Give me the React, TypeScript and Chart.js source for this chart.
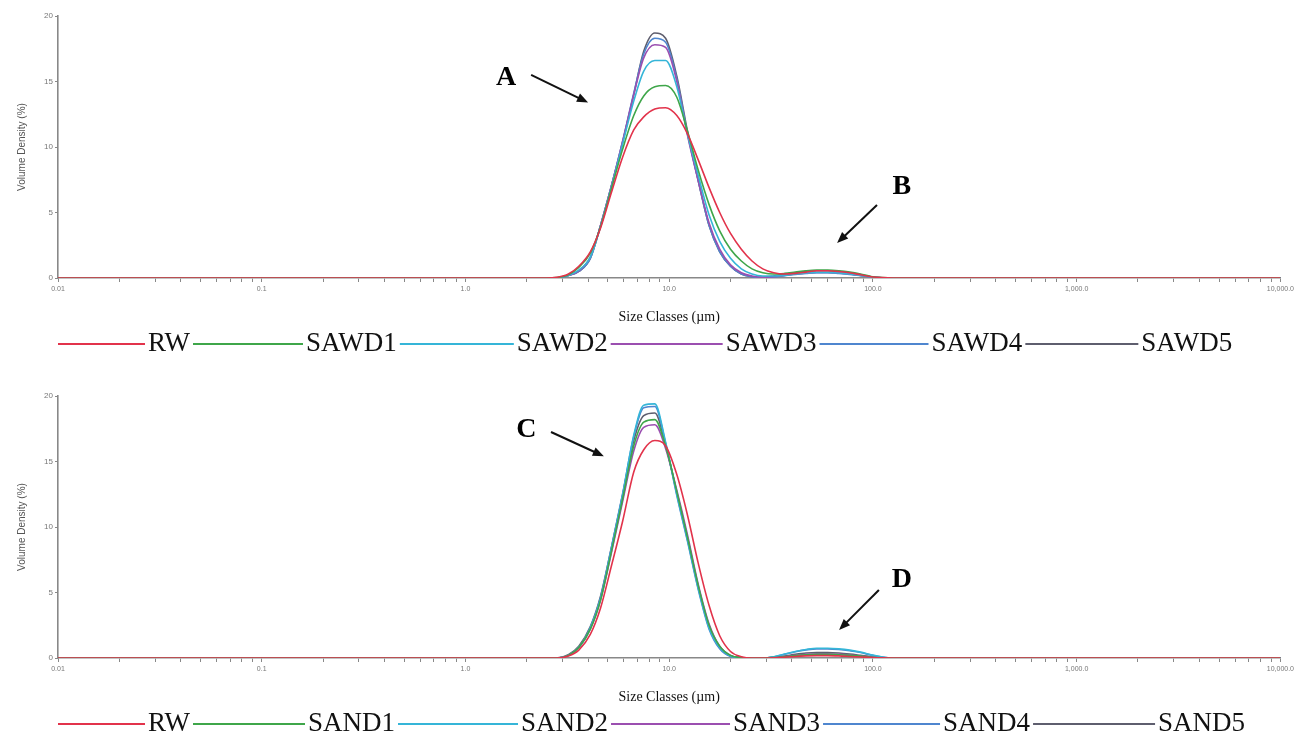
import React, { useEffect, useRef } from 'react';
import { Chart, registerables } from 'chart.js';

Chart.register(...registerables);

// Size classes (µm) at which the curves were read
const sizeClasses = [0.01, 0.1, 1, 2, 2.5, 2.8, 3.2, 3.6, 4.1, 4.6, 5.2, 5.9, 6.7, 7.5, 8.5, 9.6, 10.9, 12.3, 13.9, 15.7, 17.7, 20, 22.6, 25.5, 28.8, 32.6, 36.8, 41.6, 47, 53, 60, 68, 77, 87, 98, 111, 125, 200, 1000, 10000];

const xTickValues = [0.01, 0.1, 1, 10, 100, 1000, 10000];
const xTickLabels = ['0.01', '0.1', '1.0', '10.0', '100.0', '1,000.0', '10,000.0'];
const yTickValues = [0, 5, 10, 15, 20];

const namesTop = ['RW', 'SAWD1', 'SAWD2', 'SAWD3', 'SAWD4', 'SAWD5'];
const namesBottom = ['RW', 'SAND1', 'SAND2', 'SAND3', 'SAND4', 'SAND5'];

// Top panel (SAWD)
const rwTop = [0, 0, 0, 0, 0, 0.05, 0.3, 0.9, 2.0, 3.8, 6.5, 9.2, 11.3, 12.3, 12.9, 13.0, 12.4, 11.0, 9.0, 6.9, 5.0, 3.4, 2.2, 1.3, 0.7, 0.4, 0.3, 0.35, 0.45, 0.55, 0.55, 0.5, 0.4, 0.25, 0.1, 0.03, 0, 0, 0, 0];
const sawd1 = [0, 0, 0, 0, 0, 0.03, 0.25, 0.8, 1.9, 3.9, 6.8, 9.8, 12.4, 13.9, 14.6, 14.7, 13.8, 11.2, 8.2, 5.6, 3.6, 2.2, 1.3, 0.7, 0.4, 0.3, 0.35, 0.45, 0.55, 0.6, 0.6, 0.55, 0.45, 0.3, 0.12, 0.03, 0, 0, 0, 0];
const sawd2 = [0, 0, 0, 0, 0, 0.02, 0.2, 0.6, 1.6, 3.9, 6.9, 10.2, 13.5, 15.8, 16.6, 16.6, 14.6, 11.0, 7.8, 4.8, 2.8, 1.5, 0.7, 0.3, 0.15, 0.15, 0.2, 0.3, 0.38, 0.42, 0.42, 0.38, 0.3, 0.2, 0.08, 0.02, 0, 0, 0, 0];
const sawd3 = [0, 0, 0, 0, 0, 0, 0.2, 0.55, 1.6, 4.0, 7.0, 10.4, 14.0, 16.8, 17.8, 17.6, 15.0, 10.9, 7.4, 4.2, 2.2, 1.0, 0.4, 0.15, 0.05, 0.1, 0.2, 0.3, 0.38, 0.42, 0.42, 0.38, 0.3, 0.2, 0.08, 0.02, 0, 0, 0, 0];
const sawd4 = [0, 0, 0, 0, 0, 0, 0.2, 0.5, 1.5, 4.0, 7.0, 10.4, 14.1, 17.1, 18.3, 18.0, 15.2, 11.0, 7.4, 4.0, 2.0, 0.9, 0.3, 0.1, 0.03, 0.08, 0.18, 0.28, 0.35, 0.4, 0.4, 0.35, 0.28, 0.18, 0.07, 0.02, 0, 0, 0, 0];
const sawd5 = [0, 0, 0, 0, 0, 0, 0.2, 0.5, 1.5, 4.0, 7.0, 10.3, 14.0, 17.3, 18.7, 18.3, 15.4, 11.2, 7.4, 4.0, 2.0, 0.9, 0.3, 0.1, 0.05, 0.15, 0.3, 0.4, 0.5, 0.55, 0.55, 0.5, 0.4, 0.25, 0.1, 0.02, 0, 0, 0, 0];

// Bottom panel (SAND)
const rwBottom = [0, 0, 0, 0, 0, 0, 0.15, 0.6, 1.8, 3.8, 7.0, 10.4, 14.2, 15.9, 16.6, 16.2, 14.0, 10.9, 7.2, 4.0, 1.7, 0.5, 0.1, 0, 0, 0.02, 0.06, 0.12, 0.16, 0.18, 0.18, 0.16, 0.12, 0.08, 0.04, 0.01, 0, 0, 0, 0];
const sand1 = [0, 0, 0, 0, 0, 0, 0.2, 0.8, 2.2, 4.4, 8.1, 12.1, 16.2, 18.0, 18.2, 16.2, 12.7, 9.2, 5.5, 2.5, 0.9, 0.2, 0.03, 0, 0, 0.03, 0.1, 0.18, 0.25, 0.28, 0.28, 0.25, 0.2, 0.14, 0.06, 0.02, 0, 0, 0, 0];
const sand2 = [0, 0, 0, 0, 0, 0, 0.2, 0.8, 2.3, 4.5, 8.3, 12.4, 17.0, 19.3, 19.4, 16.5, 12.5, 9.0, 5.3, 2.3, 0.8, 0.15, 0.02, 0, 0, 0.1, 0.3, 0.5, 0.65, 0.75, 0.75, 0.7, 0.6, 0.45, 0.25, 0.08, 0, 0, 0, 0];
const sand3 = [0, 0, 0, 0, 0, 0, 0.2, 0.8, 2.2, 4.4, 8.0, 11.9, 15.8, 17.6, 17.8, 16.0, 12.8, 9.4, 5.6, 2.6, 0.9, 0.2, 0.03, 0, 0, 0.03, 0.1, 0.2, 0.28, 0.32, 0.32, 0.28, 0.22, 0.15, 0.07, 0.02, 0, 0, 0, 0];
const sand4 = [0, 0, 0, 0, 0, 0, 0.2, 0.8, 2.3, 4.6, 8.4, 12.5, 16.9, 19.1, 19.2, 16.4, 12.4, 8.9, 5.2, 2.2, 0.7, 0.12, 0.02, 0, 0, 0.08, 0.28, 0.48, 0.62, 0.7, 0.7, 0.65, 0.55, 0.42, 0.22, 0.07, 0, 0, 0, 0];
const sand5 = [0, 0, 0, 0, 0, 0, 0.25, 0.9, 2.4, 4.7, 8.4, 12.4, 16.6, 18.5, 18.7, 16.3, 12.6, 9.1, 5.4, 2.4, 0.8, 0.15, 0.02, 0, 0, 0.05, 0.15, 0.28, 0.38, 0.42, 0.42, 0.38, 0.3, 0.2, 0.1, 0.03, 0, 0, 0, 0];

const seriesTop = [rwTop, sawd1, sawd2, sawd3, sawd4, sawd5];
const seriesBottom = [rwBottom, sand1, sand2, sand3, sand4, sand5];

const colors = ['#e2334b', '#3fa64a', '#35b5d8', '#9b4fb0', '#4f86cf', '#5e5e6e'];

// Legend line lengths (style only)
const legendLinesTop = [87, 110, 114, 112, 109, 113];
const legendLinesBottom = [87, 112, 120, 119, 117, 122];

// Annotation letters with arrows, in data units (µm, %)
const arrowsTop = [
  { label: 'A', tx: 1.585, ty: 15.3, x0: 2.1, y0: 15.5, x1: 4.0, y1: 13.4 },
  { label: 'B', tx: 138.6, ty: 7.0, x0: 104.7, y0: 5.57, x1: 66.7, y1: 2.67 },
];
const arrowsBottom = [
  { label: 'C', tx: 1.99, ty: 17.4, x0: 2.63, y0: 17.25, x1: 4.78, y1: 15.4 },
  { label: 'D', tx: 138.6, ty: 5.95, x0: 107, y0: 5.19, x1: 68.2, y1: 2.14 },
];

const xTickPositions: number[] = [];
xTickValues.slice(0, -1).forEach((d) => {
  for (let m = 1; m <= 9; m++) xTickPositions.push(m === 1 ? d : m * d);
});
xTickPositions.push(10000);

const SERIF = "'Liberation Serif', 'Times New Roman', serif";
const SANS = "'Liberation Sans', Arial, sans-serif";

function makeArrowPlugin(items: any[]) {
  return {
    id: 'letterArrows',
    afterDatasetsDraw(chart: any) {
      const { ctx, scales } = chart;
      const xs = scales.x;
      const ys = scales.y;
      items.forEach((it) => {
        ctx.save();
        ctx.font = `bold 28px ${SERIF}`;
        ctx.fillStyle = '#000';
        ctx.textAlign = 'center';
        ctx.textBaseline = 'middle';
        ctx.fillText(it.label, xs.getPixelForValue(it.tx), ys.getPixelForValue(it.ty));
        const x0 = xs.getPixelForValue(it.x0);
        const y0 = ys.getPixelForValue(it.y0);
        const x1 = xs.getPixelForValue(it.x1);
        const y1 = ys.getPixelForValue(it.y1);
        const ang = Math.atan2(y1 - y0, x1 - x0);
        const head = 12;
        ctx.strokeStyle = '#111';
        ctx.lineWidth = 2;
        ctx.beginPath();
        ctx.moveTo(x0, y0);
        ctx.lineTo(x1 - head * 0.8 * Math.cos(ang), y1 - head * 0.8 * Math.sin(ang));
        ctx.stroke();
        ctx.fillStyle = '#111';
        ctx.beginPath();
        ctx.moveTo(x1, y1);
        ctx.lineTo(x1 - head * Math.cos(ang - 0.38), y1 - head * Math.sin(ang - 0.38));
        ctx.lineTo(x1 - head * Math.cos(ang + 0.38), y1 - head * Math.sin(ang + 0.38));
        ctx.closePath();
        ctx.fill();
        ctx.restore();
      });
    },
  };
}

// Legend drawn as a "line + label" run, starting at the plot's left edge
function makeLegendPlugin(lineLens: number[]) {
  return {
    id: 'lineLegend',
    afterDraw(chart: any) {
      const { ctx, chartArea } = chart;
      const y = chart.height - 24;
      let x = chartArea.left;
      ctx.save();
      ctx.font = `27px ${SERIF}`;
      ctx.textBaseline = 'middle';
      ctx.textAlign = 'left';
      chart.data.datasets.forEach((d: any, i: number) => {
        const len = lineLens[i];
        ctx.strokeStyle = d.borderColor;
        ctx.lineWidth = 2.2;
        ctx.beginPath();
        ctx.moveTo(x, y);
        ctx.lineTo(x + len, y);
        ctx.stroke();
        x += len + 3;
        ctx.fillStyle = '#111';
        ctx.fillText(d.label, x, y);
        x += ctx.measureText(d.label).width + 3;
      });
      ctx.restore();
    },
  };
}

function Panel({ names, series, arrows, lineLens, top }: { names: string[]; series: number[][]; arrows: any[]; lineLens: number[]; top: number }) {
  const ref = useRef<HTMLCanvasElement | null>(null);
  useEffect(() => {
    const datasets = names.map((n, i) => ({
      label: n,
      data: sizeClasses.map((s, j) => ({ x: s, y: series[i][j] })),
      borderColor: colors[i],
      backgroundColor: colors[i],
      borderWidth: 1.6,
      pointRadius: 0,
      fill: false,
      cubicInterpolationMode: 'monotone' as const,
    }));
    const chart = new Chart(ref.current as HTMLCanvasElement, {
      type: 'line',
      data: { datasets },
      plugins: [makeArrowPlugin(arrows), makeLegendPlugin(lineLens)],
      options: {
        responsive: true,
        maintainAspectRatio: false,
        animation: false,
        layout: { padding: { top: 16, right: 10, left: 0, bottom: 41 } },
        plugins: {
          tooltip: { enabled: false },
          legend: { display: false },
        },
        scales: {
          x: {
            type: 'logarithmic',
            min: 0.01,
            max: 10000,
            afterBuildTicks: (s: any) => {
              s.ticks = xTickPositions.map((v) => ({ value: v }));
            },
            afterFit: (s: any) => {
              s.height = 49;
            },
            ticks: {
              autoSkip: false,
              maxRotation: 0,
              minRotation: 0,
              padding: 3,
              font: { family: SANS, size: 7 },
              color: '#777',
              callback: (v: any) => {
                const k = xTickValues.indexOf(Number(v));
                return k >= 0 ? xTickLabels[k] : '';
              },
            },
            grid: { drawOnChartArea: false, drawTicks: true, tickLength: 4, color: '#888' },
            border: { color: '#888', width: 1.6 },
            title: {
              display: true,
              text: 'Size Classes (µm)',
              font: { family: SERIF, size: 14 },
              color: '#111',
              padding: { top: 0, bottom: 1 },
            },
          },
          y: {
            min: 0,
            max: 20,
            afterBuildTicks: (s: any) => {
              s.ticks = yTickValues.map((v) => ({ value: v }));
            },
            afterFit: (s: any) => {
              s.width = 58;
            },
            ticks: { font: { family: SANS, size: 8 }, color: '#777', padding: 2 },
            grid: { drawOnChartArea: false, drawTicks: true, tickLength: 3, color: '#888' },
            border: { color: '#888', width: 1.6 },
            title: {
              display: true,
              text: 'Volume Density (%)',
              font: { family: SANS, size: 10 },
              color: '#555',
              padding: { top: 16, bottom: 0 },
            },
          },
        },
      } as any,
    });
    return () => chart.destroy();
  }, []);
  return (
    <div style={{ position: 'absolute', left: 0, top, width: 1297, height: 368 }}>
      <canvas ref={ref} />
    </div>
  );
}

export default function App() {
  return (
    <div style={{ position: 'absolute', left: 0, top: 0, width: 1297, height: 751, background: '#fff' }}>
      <Panel names={namesTop} series={seriesTop} arrows={arrowsTop} lineLens={legendLinesTop} top={0} />
      <Panel names={namesBottom} series={seriesBottom} arrows={arrowsBottom} lineLens={legendLinesBottom} top={380} />
    </div>
  );
}
